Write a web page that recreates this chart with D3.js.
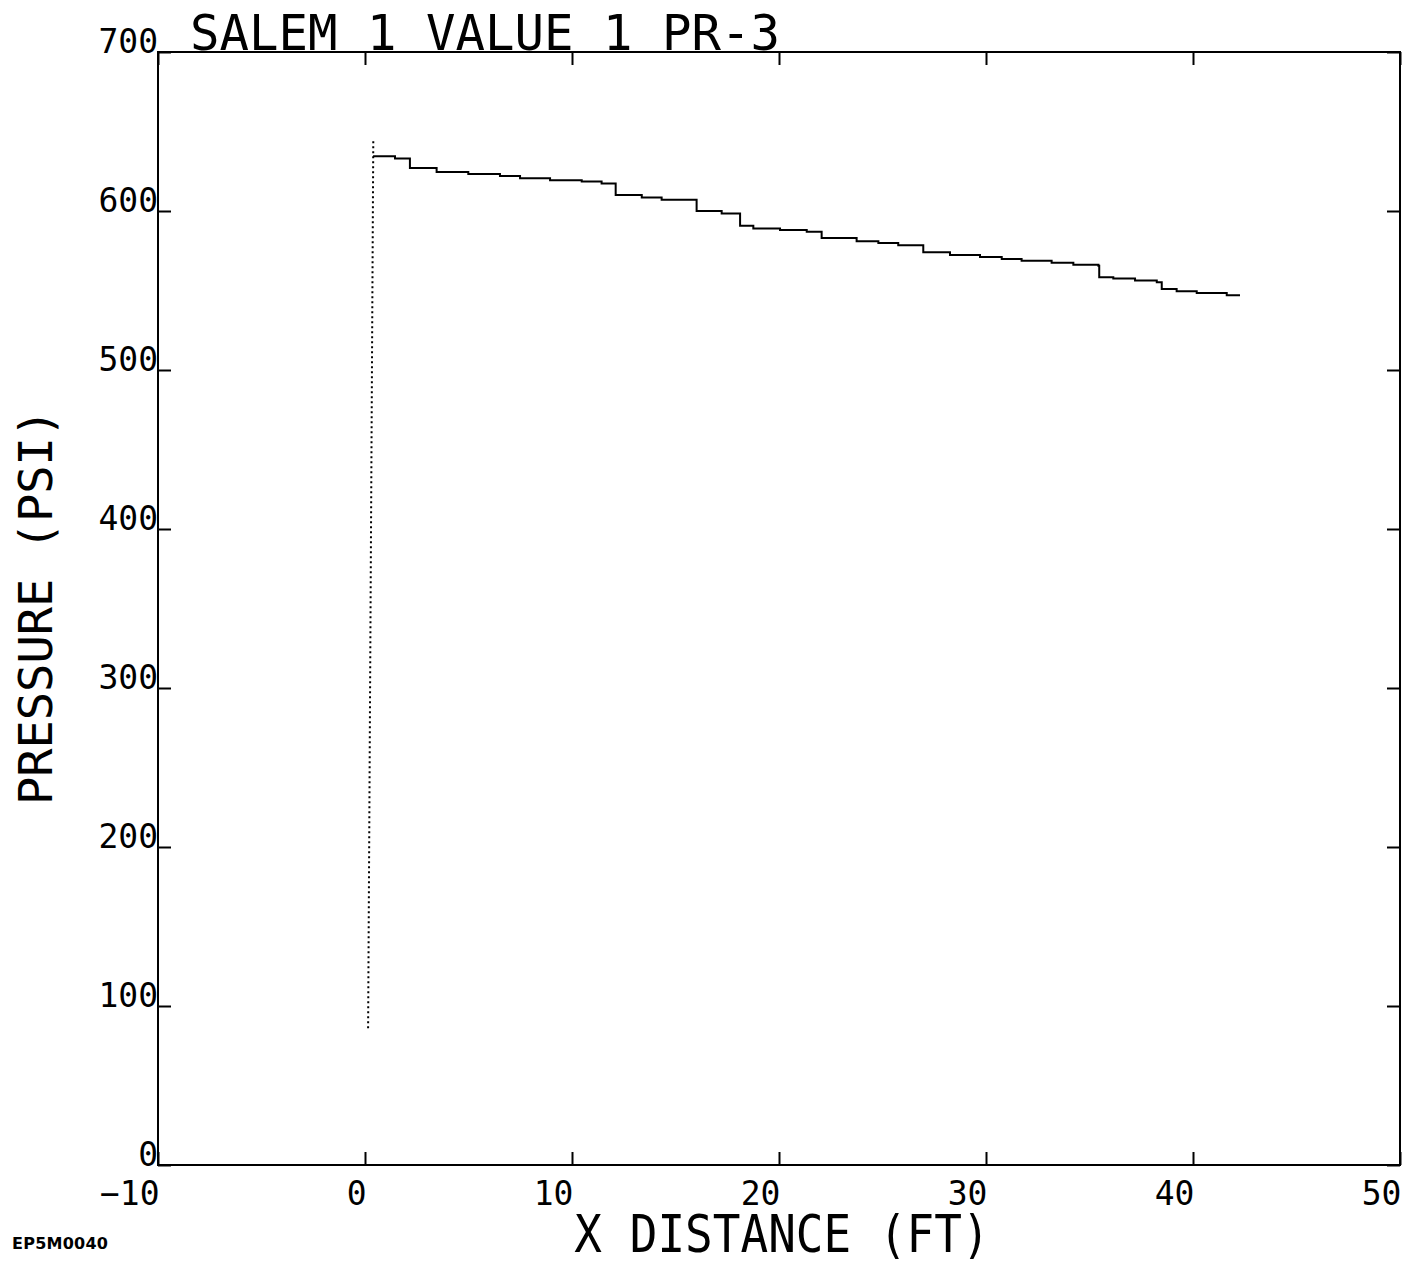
<!DOCTYPE html>
<html>
<head>
<meta charset="utf-8">
<script src="https://cdn.jsdelivr.net/npm/d3@7"></script>
<style>
  body { margin: 0; background: #fff; }
  svg { display: block; }
  text { font-family: 'DejaVu Sans Mono', monospace; fill: #000; }
  .axis line { stroke: #000; stroke-width: 2; }
  .axis path { display: none; }
</style>
</head>
<body>
<svg width="1416" height="1265"></svg>
<script>
// step profile, pressure (psi) vs distance (ft)
const distance = [0.39, 1.45, 2.17, 3.46, 4.99, 6.52, 7.49, 8.94, 10.47, 11.43,
  12.11, 13.37, 14.33, 16.02, 17.23, 18.12, 18.76, 20.05, 21.34, 22.06,
  23.75, 24.80, 25.76, 26.97, 28.26, 29.71, 30.76, 31.72, 33.17, 34.22,
  35.43, 35.47, 36.15, 37.20, 38.25, 38.49, 39.21, 40.18, 41.63, 42.27];
const pressure = [634.5, 633, 627, 624.5, 623.2, 622, 620.6, 619.4, 618.6, 617.3,
  610, 608.5, 607, 600, 598.5, 590.7, 589, 588, 587, 583,
  581, 579.8, 578.5, 574, 572.4, 571, 569.8, 568.7, 567.4, 566.2,
  565.5, 558.3, 557.5, 556.3, 555.2, 551, 549.6, 548.4, 547, 547];

// dotted initial front
const frontX = [0.15, 0.4];
const frontY = [86, 644];

const xTicks = [-10, 0, 10, 20, 30, 40, 50];
const yTicks = [0, 100, 200, 300, 400, 500, 600, 700];

const pLeft = 158, pRight = 1400, pTop = 52, pBottom = 1165;

const x = d3.scaleLinear().domain([-10, 50]).range([pLeft, pRight]);
const y = d3.scaleLinear().domain([0, 700]).range([pBottom, pTop]);

const svg = d3.select('svg');

// frame
svg.append('rect')
    .attr('x', pLeft).attr('y', pTop)
    .attr('width', pRight - pLeft).attr('height', pBottom - pTop)
    .attr('fill', 'none').attr('stroke', '#000').attr('stroke-width', 2);

const xb = svg.append('g')
    .attr('class', 'axis')
    .attr('transform', `translate(0, ${pBottom})`)
    .call(d3.axisBottom(x).tickValues(xTicks).tickSize(-13).tickSizeOuter(0).tickFormat(d3.format('d')));
xb.selectAll('text')
    .attr('text-anchor', 'end')
    .attr('x', 1).attr('y', 40).attr('dy', null)
    .style('font-size', '33px')
    .text(function(d) { return d < 0 ? '\u2212' + Math.abs(d) : d; });

svg.append('g')
    .attr('class', 'axis')
    .attr('transform', `translate(0, ${pTop})`)
    .call(d3.axisTop(x).tickValues(xTicks).tickSize(-13).tickSizeOuter(0).tickFormat(''));

const yl = svg.append('g')
    .attr('class', 'axis')
    .attr('transform', `translate(${pLeft}, 0)`)
    .call(d3.axisLeft(y).tickValues(yTicks).tickSize(-13).tickSizeOuter(0));
yl.selectAll('text')
    .attr('text-anchor', 'end')
    .attr('x', 0).attr('y', 0).attr('dy', null)
    .style('font-size', '33px');

svg.append('g')
    .attr('class', 'axis')
    .attr('transform', `translate(${pRight}, 0)`)
    .call(d3.axisRight(y).tickValues(yTicks).tickSize(-13).tickSizeOuter(0).tickFormat(''));

// data
const profile = distance.map(function(d, i) { return {x: d, y: pressure[i]}; });
const front = frontX.map(function(d, i) { return {x: d, y: frontY[i]}; });

const step = d3.line()
    .curve(d3.curveStepAfter)
    .x(function(d) { return x(d.x); })
    .y(function(d) { return y(d.y); });

svg.append('path')
    .datum(profile)
    .attr('d', step)
    .attr('fill', 'none')
    .attr('stroke', '#000')
    .attr('stroke-width', 2);

svg.append('path')
    .datum(front)
    .attr('d', d3.line().x(function(d) { return x(d.x); }).y(function(d) { return y(d.y); }))
    .attr('fill', 'none')
    .attr('stroke', '#000')
    .attr('stroke-width', 2)
    .attr('stroke-dasharray', '2,3');

// titles
svg.append('text')
    .attr('x', 190).attr('y', 50)
    .style('font-size', '49px')
    .text('SALEM 1 VALUE 1 PR-3');

svg.append('text')
    .attr('transform', 'translate(782, 1252) scale(1, 1.12)')
    .attr('text-anchor', 'middle')
    .style('font-size', '46px')
    .text('X DISTANCE (FT)');

svg.append('text')
    .attr('transform', 'translate(52, 607) rotate(-90)')
    .attr('text-anchor', 'middle')
    .style('font-size', '47px')
    .text('PRESSURE (PSI)');

svg.append('text')
    .attr('x', 12).attr('y', 1249)
    .attr('textLength', 96)
    .style('font-family', "'DejaVu Sans', sans-serif")
    .style('font-weight', 'bold')
    .style('font-size', '16px')
    .text('EP5M0040');
</script>
</body>
</html>
